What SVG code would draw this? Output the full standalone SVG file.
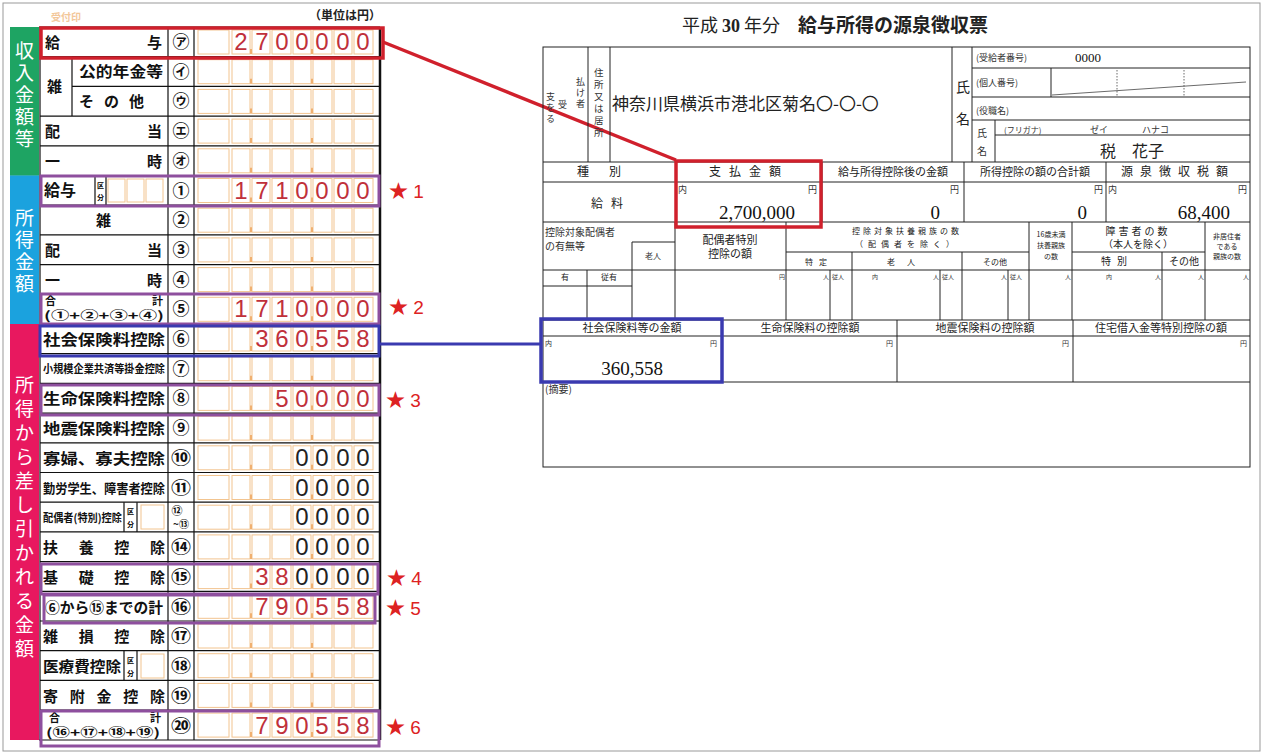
<svg xmlns="http://www.w3.org/2000/svg" xmlns:xlink="http://www.w3.org/1999/xlink" width="1263" height="754" viewBox="0 0 1263 754">
<style>
.g{font-family:"Noto Sans CJK JP","Noto Sans",sans-serif}
.lb{font-family:"Noto Sans CJK JP",sans-serif;font-weight:bold;font-size:15px;fill:#111}
.cn{font-family:"Noto Sans CJK JP",sans-serif;font-weight:bold;font-size:17px;fill:#111;text-anchor:middle}
.dg{font-family:"Liberation Sans",sans-serif;font-size:24px;fill:#c0303a;text-anchor:middle}
.dk{font-family:"Liberation Sans",sans-serif;font-size:24px;fill:#222;text-anchor:middle}
.st{font-family:"Liberation Sans","Noto Sans CJK JP",sans-serif;font-size:19px;fill:#d22}
.band{font-family:"Noto Sans CJK JP",sans-serif;font-size:19px;fill:#fff;text-anchor:middle}
.ln{stroke:#111;stroke-width:1.2;fill:none}
.cell{fill:#fff;stroke:#f2c48f;stroke-width:1}
.r{font-family:"Noto Sans CJK JP",serif;font-size:10px;fill:#333}
.rm{font-family:"Noto Sans CJK JP",serif;font-size:12px;fill:#222;text-anchor:middle}
.rv{font-family:"Liberation Serif",serif;font-size:19px;fill:#111}
.rl{stroke:#222;stroke-width:1;fill:none}
.hp{fill:none;stroke:#8e4f9e;stroke-width:3}
.s6 text{font-size:6px}
.s7 text{font-size:7px}
</style>
<defs>
<g id="cells">
<rect class="cell" x="198" y="3" width="31" height="24"/>
<rect class="cell" x="232" y="3" width="18" height="24"/>
<rect class="cell" x="252" y="3" width="18" height="24"/>
<rect class="cell" x="272" y="3" width="19" height="24"/>
<rect class="cell" x="293" y="3" width="18" height="24"/>
<rect class="cell" x="313" y="3" width="19" height="24"/>
<rect class="cell" x="334" y="3" width="18" height="24"/>
<rect class="cell" x="354" y="3" width="19" height="24"/>
<path d="M251 22v5M312 22v5" stroke="#f0b070" stroke-width="2"/>
</g>
</defs>
<rect width="1263" height="754" fill="#fff"/>
<rect x="3" y="3" width="1257" height="748" fill="none" stroke="#999" stroke-width="1"/>

<g id="left-form">
<text x="66" y="21" class="g" font-size="10" fill="#f3c79a" font-weight="bold" text-anchor="middle">受付印</text>
<text x="345" y="20" class="g" font-size="12" font-weight="bold" fill="#222" text-anchor="middle">（単位は円）</text>
<rect x="10" y="27" width="29" height="148.8" fill="#1ea463"/>
<rect x="10" y="175.5" width="29" height="148.5" fill="#1ba2de"/>
<rect x="10" y="324" width="29" height="416" fill="#e8185f"/>
<text class="band"><tspan x="24.5" y="58">収</tspan><tspan x="24.5" y="80">入</tspan><tspan x="24.5" y="102">金</tspan><tspan x="24.5" y="124">額</tspan><tspan x="24.5" y="146">等</tspan></text>
<text class="band"><tspan x="24.5" y="225">所</tspan><tspan x="24.5" y="247">得</tspan><tspan x="24.5" y="269">金</tspan><tspan x="24.5" y="291">額</tspan></text>
<text class="band"><tspan x="24.5" y="392">所</tspan><tspan x="24.5" y="416">得</tspan><tspan x="24.5" y="440">か</tspan><tspan x="24.5" y="464">ら</tspan><tspan x="24.5" y="488">差</tspan><tspan x="24.5" y="512">し</tspan><tspan x="24.5" y="536">引</tspan><tspan x="24.5" y="560">か</tspan><tspan x="24.5" y="584">れ</tspan><tspan x="24.5" y="608">る</tspan><tspan x="24.5" y="632">金</tspan><tspan x="24.5" y="656">額</tspan></text>

<g id="cellrows">
<use xlink:href="#cells" y="27"/><use xlink:href="#cells" y="56.7"/><use xlink:href="#cells" y="86.4"/><use xlink:href="#cells" y="116.1"/><use xlink:href="#cells" y="145.8"/><use xlink:href="#cells" y="175.5"/><use xlink:href="#cells" y="205.2"/><use xlink:href="#cells" y="234.9"/><use xlink:href="#cells" y="264.6"/><use xlink:href="#cells" y="294.3"/><use xlink:href="#cells" y="324"/><use xlink:href="#cells" y="353.7"/><use xlink:href="#cells" y="383.4"/><use xlink:href="#cells" y="413.1"/><use xlink:href="#cells" y="442.8"/><use xlink:href="#cells" y="472.5"/><use xlink:href="#cells" y="502.2"/><use xlink:href="#cells" y="531.9"/><use xlink:href="#cells" y="561.6"/><use xlink:href="#cells" y="591.3"/><use xlink:href="#cells" y="621"/><use xlink:href="#cells" y="650.7"/><use xlink:href="#cells" y="680.4"/><use xlink:href="#cells" y="710.1"/>
</g>

<path class="ln" d="M39 27H380M72 56.7H380M72 86.4H380M40 116.1H380M40 145.8H380M40 175.5H380M40 205.2H380M40 234.9H380M40 264.6H380M40 294.3H380M40 324H380M40 353.7H380M40 383.4H380M40 413.1H380M40 442.8H380M40 472.5H380M40 502.2H380M40 531.9H380M40 561.6H380M40 591.3H380M40 621H380M40 650.7H380M40 680.4H380M40 710.1H380M39 740H380"/>
<path class="ln" d="M40 27V740M168 27V740M194 27V740M72 56.7V116.1M95 175.5V205.2M106 175.5V205.2M124 502.2V531.9M137 502.2V531.9M124 650.7V680.4M137 650.7V680.4"/>
<path d="M380 27V740" stroke="#111" stroke-width="2.5"/>
<path d="M40 56.7H72" stroke="#111" stroke-width="1.2"/>
<rect x="108" y="179" width="17" height="23" class="cell"/><rect x="127" y="179" width="17" height="23" class="cell"/><rect x="146" y="179" width="17" height="23" class="cell"/>
<rect x="141" y="505" width="23" height="24" class="cell"/><rect x="141" y="654" width="23" height="24" class="cell"/>

<text class="lb" x="45" y="48">給</text><text class="lb" x="147" y="48">与</text>
<text class="lb" x="47" y="92">雑</text>
<text class="lb" x="79" y="77" textLength="84" lengthAdjust="spacingAndGlyphs">公的年金等</text>
<text class="lb" x="79" y="107" letter-spacing="10">その他</text>
<text class="lb" x="45" y="137">配</text><text class="lb" x="147" y="137">当</text>
<text class="lb" x="45" y="167">一</text><text class="lb" x="147" y="167">時</text>
<text class="lb" x="44" y="196" style="font-size:16px">給与</text>
<text class="g" font-size="7" font-weight="bold" x="97" y="188">区</text><text class="g" font-size="7" font-weight="bold" x="97" y="200">分</text>
<text class="lb" x="96" y="226">雑</text>
<text class="lb" x="45" y="256">配</text><text class="lb" x="147" y="256">当</text>
<text class="lb" x="45" y="286">一</text><text class="lb" x="147" y="286">時</text>
<text class="lb" style="font-size:11px" x="45" y="305">合</text><text class="lb" style="font-size:11px" x="152" y="305">計</text>
<text class="lb" style="font-size:12px" x="44" y="320" textLength="120" lengthAdjust="spacingAndGlyphs">(①+②+③+④)</text>
<text class="lb" x="43" y="345" textLength="122" lengthAdjust="spacingAndGlyphs">社会保険料控除</text>
<text class="lb" style="font-size:11px" x="43" y="373" textLength="122" lengthAdjust="spacingAndGlyphs">小規模企業共済等掛金控除</text>
<text class="lb" x="43" y="404" textLength="122" lengthAdjust="spacingAndGlyphs">生命保険料控除</text>
<text class="lb" x="43" y="434" textLength="122" lengthAdjust="spacingAndGlyphs">地震保険料控除</text>
<text class="lb" x="43" y="464" textLength="122" lengthAdjust="spacingAndGlyphs">寡婦、寡夫控除</text>
<text class="lb" style="font-size:13px" x="43" y="493" textLength="122" lengthAdjust="spacingAndGlyphs">勤労学生、障害者控除</text>
<text class="lb" style="font-size:11px" x="43" y="522" textLength="79" lengthAdjust="spacingAndGlyphs">配偶者(特別)控除</text>
<text class="g" font-size="7" font-weight="bold" x="127" y="514">区</text><text class="g" font-size="7" font-weight="bold" x="127" y="527">分</text>
<text class="lb" x="43" y="553" textLength="122" lengthAdjust="spacing">扶養控除</text>
<text class="lb" x="43" y="583" textLength="122" lengthAdjust="spacing">基礎控除</text>
<text class="lb" x="45" y="613" textLength="118" lengthAdjust="spacingAndGlyphs">⑥から⑮までの計</text>
<text class="lb" x="43" y="642" textLength="122" lengthAdjust="spacing">雑損控除</text>
<text class="lb" x="43" y="672" textLength="78" lengthAdjust="spacingAndGlyphs">医療費控除</text>
<text class="g" font-size="7" font-weight="bold" x="127" y="663">区</text><text class="g" font-size="7" font-weight="bold" x="127" y="676">分</text>
<text class="lb" x="43" y="702" textLength="122" lengthAdjust="spacing">寄附金控除</text>
<text class="lb" style="font-size:11px" x="49" y="722">合</text><text class="lb" style="font-size:11px" x="150" y="722">計</text>
<text class="lb" style="font-size:12px" x="46" y="737" textLength="114" lengthAdjust="spacingAndGlyphs">(⑯+⑰+⑱+⑲)</text>

<text class="cn" x="181" y="48">㋐</text><text class="cn" x="181" y="78">㋑</text><text class="cn" x="181" y="107">㋒</text><text class="cn" x="181" y="137">㋓</text><text class="cn" x="181" y="167">㋔</text>
<text class="cn" x="181" y="197">①</text><text class="cn" x="181" y="226">②</text><text class="cn" x="181" y="256">③</text><text class="cn" x="181" y="286">④</text><text class="cn" x="181" y="315">⑤</text>
<text class="cn" x="181" y="345">⑥</text><text class="cn" x="181" y="375">⑦</text><text class="cn" x="181" y="404">⑧</text><text class="cn" x="181" y="434">⑨</text>
<text class="cn" x="181" y="464" textLength="20" lengthAdjust="spacingAndGlyphs">⑩</text><text class="cn" x="181" y="494" textLength="20" lengthAdjust="spacingAndGlyphs">⑪</text>
<text class="cn" style="font-size:11px" x="177" y="515">⑫</text><text class="cn" style="font-size:10px" x="181" y="528">~⑬</text>
<text class="cn" x="181" y="553" textLength="20" lengthAdjust="spacingAndGlyphs">⑭</text><text class="cn" x="181" y="583" textLength="20" lengthAdjust="spacingAndGlyphs">⑮</text><text class="cn" x="181" y="613" textLength="20" lengthAdjust="spacingAndGlyphs">⑯</text><text class="cn" x="181" y="642" textLength="20" lengthAdjust="spacingAndGlyphs">⑰</text><text class="cn" x="181" y="672" textLength="20" lengthAdjust="spacingAndGlyphs">⑱</text><text class="cn" x="181" y="702" textLength="20" lengthAdjust="spacingAndGlyphs">⑲</text><text class="cn" x="181" y="732" textLength="20" lengthAdjust="spacingAndGlyphs">⑳</text>

<text class="dg" x="241 262 282 302 322 343 363" y="50">2700000</text>
<text class="dg" x="241 262 282 302 322 343 363" y="199">1710000</text>
<text class="dg" x="241 262 282 302 322 343 363" y="317">1710000</text>
<text class="dg" x="262 282 302 322 343 363" y="347">360558</text>
<text class="dg" x="282 302 322 343 363" y="407">50000</text>
<text class="dk" x="302 322 343 363" y="466">0000</text>
<text class="dk" x="302 322 343 363" y="496">0000</text>
<text class="dk" x="302 322 343 363" y="525">0000</text>
<text class="dk" x="302 322 343 363" y="555">0000</text>
<text class="dg" x="262 282" y="585">38</text><text class="dk" x="302 322 343 363" y="585">0000</text>
<text class="dg" x="262 282 302 322 343 363" y="615">790558</text>
<text class="dg" x="262 282 302 322 343 363" y="734">790558</text>
</g>

<g id="highlights">
<rect x="41" y="28" width="342" height="30" fill="none" stroke="#d0202c" stroke-width="3.5"/>
<rect class="hp" x="41" y="176" width="338" height="30"/>
<rect class="hp" x="41" y="294" width="338" height="30"/>
<rect x="40" y="326" width="339" height="30" fill="none" stroke="#3a3ab0" stroke-width="3"/>
<rect class="hp" x="41" y="385" width="338" height="30"/>
<rect class="hp" x="41" y="564" width="337" height="30"/>
<rect class="hp" x="44" y="595" width="331" height="28"/>
<rect class="hp" x="41" y="711" width="338" height="35"/>
<text class="st" x="389" y="198">★ 1</text>
<text class="st" x="389" y="314">★ 2</text>
<text class="st" x="386" y="407">★ 3</text>
<text class="st" x="387" y="585">★ 4</text>
<text class="st" x="386" y="615">★ 5</text>
<text class="st" x="386" y="734">★ 6</text>
</g>

<g id="connectors">
<path d="M383 42L676 160" stroke="#d0202c" stroke-width="3.5" fill="none"/>
<path d="M379 344H541" stroke="#3a3ab0" stroke-width="3" fill="none"/>
</g>

<g id="right-form">
<text x="835" y="32" class="g" font-size="18" fill="#222" text-anchor="middle"><tspan>平成 </tspan><tspan font-family="Liberation Serif" font-weight="bold">30</tspan><tspan> 年分　</tspan><tspan font-weight="bold" font-size="19">給与所得の源泉徴収票</tspan></text>
<rect x="543" y="47" width="707" height="420" class="rl" stroke-width="1.3"/>
<path class="rl" d="M588 47V162M610 47V162M952 47V162M972 47V162M972 68H1250M1051 68V97M972 97H1250M972 120H1250M995 120V162M995 135H1250M543 162H1250M543 182H1250M676 162V222M822 162V222M964 162V222M1106 162V222M543 222H1250"/>
<path d="M1052 95L1246 82" stroke="#444" stroke-width="0.8"/>
<path d="M1117 70V97M1184 70V97" stroke="#444" stroke-width="0.8" stroke-dasharray="1.5 1.5"/>
<text class="r" style="font-size:9px"><tspan x="546" y="100">支</tspan><tspan x="546" y="111">を</tspan><tspan x="546" y="122">る</tspan><tspan x="558" y="108">受</tspan><tspan x="576" y="85">払</tspan><tspan x="576" y="96">け</tspan><tspan x="576" y="107">者</tspan></text>
<text class="r" style="font-size:9.5px"><tspan x="594" y="76">住</tspan><tspan x="594" y="88">所</tspan><tspan x="594" y="100">又</tspan><tspan x="594" y="112">は</tspan><tspan x="594" y="124">居</tspan><tspan x="594" y="136">所</tspan></text>
<text x="612" y="110" class="g" font-size="17" fill="#222">神奈川県横浜市港北区菊名〇-〇-〇</text>
<text class="g" x="956" y="92" font-size="14" fill="#222">氏</text><text class="g" x="956" y="124" font-size="14" fill="#222">名</text>
<text class="r" x="976" y="61" style="font-size:9px">(受給者番号)</text><text x="1075" y="62" class="rv" style="font-size:13px">0000</text>
<text class="r" x="976" y="86" style="font-size:9px">(個人番号)</text>
<text class="r" x="976" y="114" style="font-size:9px">(役職名)</text>
<text class="r" x="977" y="137">氏</text><text class="r" x="977" y="155">名</text>
<text class="r" x="1004" y="133" style="font-size:8px">(フリガナ)</text><text class="r" x="1090" y="133" style="font-size:9px">ゼイ</text><text class="r" x="1142" y="133" style="font-size:9px">ハナコ</text>
<text class="g" x="1100" y="157" font-size="16" fill="#222">税　花子</text>
<text class="rm" x="609" y="176" letter-spacing="20">種別</text>
<text class="rm" x="749" y="176" letter-spacing="8">支払金額</text>
<text class="rm" x="893" y="176" style="font-size:11px">給与所得控除後の金額</text>
<text class="rm" x="1035" y="176" style="font-size:11px">所得控除の額の合計額</text>
<text class="rm" x="1178" y="176" letter-spacing="7">源泉徴収税額</text>
<text class="rm" x="611" y="208" letter-spacing="8">給料</text>
<g class="r" style="font-size:9px"><text x="678" y="193">内</text><text x="808" y="193">円</text><text x="950" y="193">円</text><text x="1094" y="193">円</text><text x="1108" y="193">内</text><text x="1238" y="193">円</text></g>
<text class="rv" x="795" y="219" text-anchor="end">2,700,000</text>
<text class="rv" x="940" y="219" text-anchor="end">0</text>
<text class="rv" x="1087" y="219" text-anchor="end">0</text>
<text class="rv" x="1230" y="219" text-anchor="end">68,400</text>

<path class="rl" d="M632 242V320M675 222V320M786 222V320M786 252H1029M852 252V320M962 252V320M1029 222V320M1072 222V320M1072 252H1205M1162 252V320M1205 222V320M632 242H675M543 270H1250M543 286H632M587 270V320M830 270V320M940 270V320M1008 270V320M543 320H1250"/>
<text class="r" x="545" y="236">控除対象配偶者</text><text class="r" x="545" y="250">の有無等</text>
<text class="r" x="645" y="259" style="font-size:8px">老人</text>
<text class="rm" x="730" y="244" style="font-size:11px">配偶者特別</text><text class="rm" x="730" y="258" style="font-size:11px">控除の額</text>
<text class="rm" x="907" y="234" style="font-size:8px" letter-spacing="3">控除対象扶養親族の数</text>
<text class="rm" x="907" y="247" style="font-size:8px" letter-spacing="5">（配偶者を除く）</text>
<text class="rm" x="819" y="265" style="font-size:8px" letter-spacing="6">特定</text>
<text class="rm" x="907" y="265" style="font-size:8px" letter-spacing="12">老人</text>
<text class="rm" x="995" y="265" style="font-size:8px">その他</text>
<text class="rm" x="1051" y="237" style="font-size:7px">16歳未満</text><text class="rm" x="1051" y="248" style="font-size:7px">扶養親族</text><text class="rm" x="1051" y="259" style="font-size:7px">の数</text>
<text class="rm" x="1138" y="235" style="font-size:10px" letter-spacing="3">障害者の数</text><text class="rm" x="1138" y="248" style="font-size:10px">（本人を除く）</text>
<text class="rm" x="1117" y="265" style="font-size:10px" letter-spacing="6">特別</text><text class="rm" x="1184" y="265" style="font-size:10px">その他</text>
<text class="rm" x="1227" y="239" style="font-size:7px">非居住者</text><text class="rm" x="1227" y="249" style="font-size:7px">である</text><text class="rm" x="1227" y="259" style="font-size:7px">親族の数</text>
<text class="rm" x="565" y="280" style="font-size:8px">有</text><text class="rm" x="609" y="280" style="font-size:8px">従有</text>
<g class="s6" fill="#333" font-family="Noto Sans CJK JP,sans-serif"><text x="779" y="279">円</text><text x="823" y="279">人</text><text x="832" y="279">従人</text><text x="872" y="279">内</text><text x="933" y="279">人</text><text x="942" y="279">従人</text><text x="1001" y="279">人</text><text x="1010" y="279">従人</text><text x="1065" y="279">人</text><text x="1106" y="279">内</text><text x="1155" y="279">人</text><text x="1198" y="279">人</text><text x="1243" y="279">人</text></g>

<path class="rl" d="M543 336H1250M722 320V382M897 320V382M1073 320V382M543 382H1250"/>
<text class="rm" x="632" y="332" style="font-size:11px">社会保険料等の金額</text>
<text class="rm" x="810" y="332" style="font-size:11px">生命保険料の控除額</text>
<text class="rm" x="985" y="332" style="font-size:11px">地震保険料の控除額</text>
<text class="rm" x="1161" y="332" style="font-size:11px">住宅借入金等特別控除の額</text>
<g class="s7" fill="#333" font-family="Noto Sans CJK JP,sans-serif"><text x="545" y="346">内</text><text x="710" y="346">円</text><text x="886" y="346">円</text><text x="1062" y="346">円</text><text x="1240" y="346">円</text></g>
<text class="rv" x="632" y="375" text-anchor="middle">360,558</text>
<text class="r" x="545" y="393">(摘要)</text>
<rect x="541" y="319" width="181" height="63" fill="none" stroke="#3a3ab0" stroke-width="3.5"/>
<rect x="676" y="161" width="145" height="66" fill="none" stroke="#d0202c" stroke-width="3.5"/>
</g>
</svg>
